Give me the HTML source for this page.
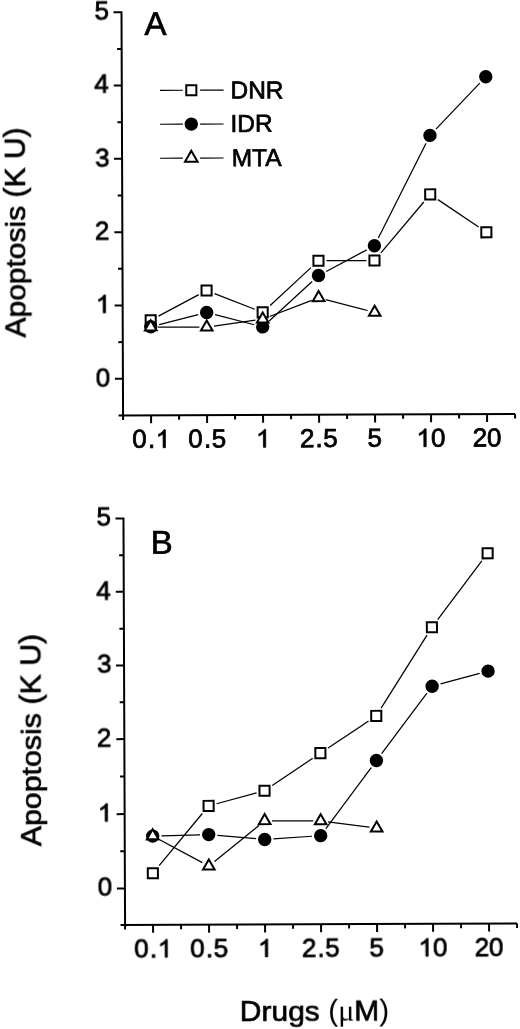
<!DOCTYPE html>
<html><head><meta charset="utf-8"><style>
html,body{margin:0;padding:0;background:#fff;width:520px;height:1029px;overflow:hidden}
svg{display:block;filter:grayscale(1)}
text{font-family:"Liberation Sans", sans-serif}
</style></head><body>
<svg width="520" height="1029" viewBox="0 0 520 1029">
<defs><filter id="soft" x="-2%" y="-2%" width="104%" height="104%"><feGaussianBlur stdDeviation="0.3"/></filter></defs>
<rect width="520" height="1029" fill="#fff"/>
<g filter="url(#soft)"><g transform="rotate(-0.2235)" font-family="Liberation Sans, sans-serif" fill="#000">
<path d="M116.95,415.89 H513.45 M121.45,415.89 V12.69 H113.45" fill="none" stroke="#000" stroke-width="2.0" stroke-linecap="butt" stroke-linejoin="miter"/>
<path d="M121.45,379.24 H113.45 M121.45,342.59 H116.95 M121.45,305.93 H113.45 M121.45,269.27 H116.95 M121.45,232.62 H113.45 M121.45,195.97 H116.95 M121.45,159.31 H113.45 M121.45,122.65 H116.95 M121.45,86.00 H113.45 M121.45,49.35 H116.95 M121.45,415.89 V420.39 M149.45,415.89 V423.89 M177.45,415.89 V420.39 M205.45,415.89 V423.89 M233.45,415.89 V420.39 M261.45,415.89 V423.89 M289.45,415.89 V420.39 M317.45,415.89 V423.89 M345.45,415.89 V420.39 M373.45,415.89 V423.89 M401.45,415.89 V420.39 M429.45,415.89 V423.89 M457.45,415.89 V420.39 M485.45,415.89 V423.89 M513.45,415.89 V420.39 " fill="none" stroke="#000" stroke-width="2.0"/>
<line x1="157.27" y1="316.75" x2="197.63" y2="295.39" stroke="#000" stroke-width="1.25"/>
<line x1="213.36" y1="294.38" x2="253.54" y2="310.25" stroke="#000" stroke-width="1.25"/>
<line x1="268.97" y1="306.47" x2="309.93" y2="268.85" stroke="#000" stroke-width="1.25"/>
<line x1="325.50" y1="261.94" x2="365.40" y2="261.96" stroke="#000" stroke-width="1.25"/>
<line x1="379.89" y1="254.39" x2="423.01" y2="203.65" stroke="#000" stroke-width="1.25"/>
<line x1="437.15" y1="201.32" x2="477.75" y2="228.95" stroke="#000" stroke-width="1.25"/>
<line x1="157.89" y1="325.27" x2="197.01" y2="315.47" stroke="#000" stroke-width="1.25"/>
<line x1="213.87" y1="315.55" x2="253.03" y2="325.73" stroke="#000" stroke-width="1.25"/>
<line x1="267.87" y1="322.06" x2="311.03" y2="282.66" stroke="#000" stroke-width="1.25"/>
<line x1="325.15" y1="272.73" x2="365.75" y2="251.32" stroke="#000" stroke-width="1.25"/>
<line x1="377.39" y1="239.50" x2="425.51" y2="144.83" stroke="#000" stroke-width="1.25"/>
<line x1="435.47" y1="130.80" x2="479.43" y2="84.93" stroke="#000" stroke-width="1.25"/>
<line x1="156.80" y1="327.64" x2="198.10" y2="327.95" stroke="#000" stroke-width="1.25"/>
<line x1="212.73" y1="326.99" x2="254.17" y2="321.21" stroke="#000" stroke-width="1.25"/>
<line x1="268.32" y1="317.59" x2="310.58" y2="301.61" stroke="#000" stroke-width="1.25"/>
<line x1="324.55" y1="300.89" x2="366.35" y2="311.95" stroke="#000" stroke-width="1.25"/>
<rect x="144.40" y="315.84" width="10.10" height="10.10" fill="#fff" stroke="#000" stroke-width="2.0"/>
<rect x="200.40" y="286.21" width="10.10" height="10.10" fill="#fff" stroke="#000" stroke-width="2.0"/>
<rect x="256.40" y="308.32" width="10.10" height="10.10" fill="#fff" stroke="#000" stroke-width="2.0"/>
<rect x="312.40" y="256.89" width="10.10" height="10.10" fill="#fff" stroke="#000" stroke-width="2.0"/>
<rect x="368.40" y="256.91" width="10.10" height="10.10" fill="#fff" stroke="#000" stroke-width="2.0"/>
<rect x="424.40" y="191.03" width="10.10" height="10.10" fill="#fff" stroke="#000" stroke-width="2.0"/>
<rect x="480.40" y="229.15" width="10.10" height="10.10" fill="#fff" stroke="#000" stroke-width="2.0"/>
<circle cx="149.45" cy="327.39" r="6.7" fill="#000"/>
<circle cx="205.45" cy="313.36" r="6.7" fill="#000"/>
<circle cx="261.45" cy="327.92" r="6.7" fill="#000"/>
<circle cx="317.45" cy="276.79" r="6.7" fill="#000"/>
<circle cx="373.45" cy="247.26" r="6.7" fill="#000"/>
<circle cx="429.45" cy="137.08" r="6.7" fill="#000"/>
<circle cx="485.45" cy="78.64" r="6.7" fill="#000"/>
<polygon points="149.45,320.89 143.65,330.94 155.25,330.94" fill="#fff" stroke="#000" stroke-width="2.0" stroke-linejoin="miter"/>
<polygon points="205.45,321.31 199.65,331.35 211.25,331.35" fill="#fff" stroke="#000" stroke-width="2.0" stroke-linejoin="miter"/>
<polygon points="261.45,313.50 255.65,323.54 267.25,323.54" fill="#fff" stroke="#000" stroke-width="2.0" stroke-linejoin="miter"/>
<polygon points="317.45,292.32 311.65,302.36 323.25,302.36" fill="#fff" stroke="#000" stroke-width="2.0" stroke-linejoin="miter"/>
<polygon points="373.45,307.13 367.65,317.18 379.25,317.18" fill="#fff" stroke="#000" stroke-width="2.0" stroke-linejoin="miter"/>
<path d="M116.95,925.45 H513.45 M121.45,925.45 V518.98 H113.45" fill="none" stroke="#000" stroke-width="2.0" stroke-linecap="butt" stroke-linejoin="miter"/>
<path d="M121.45,888.88 H113.45 M121.45,851.73 H116.95 M121.45,814.58 H113.45 M121.45,777.08 H116.95 M121.45,739.58 H113.45 M121.45,702.78 H116.95 M121.45,665.98 H113.45 M121.45,629.11 H116.95 M121.45,592.23 H113.45 M121.45,555.61 H116.95 M121.45,925.45 V929.95 M149.45,925.45 V933.45 M177.45,925.45 V929.95 M205.45,925.45 V933.45 M233.45,925.45 V929.95 M261.45,925.45 V933.45 M289.45,925.45 V929.95 M317.45,925.45 V933.45 M345.45,925.45 V929.95 M373.45,925.45 V933.45 M401.45,925.45 V929.95 M429.45,925.45 V933.45 M457.45,925.45 V929.95 M485.45,925.45 V933.45 M513.45,925.45 V929.95 " fill="none" stroke="#000" stroke-width="2.0"/>
<line x1="155.78" y1="866.26" x2="199.12" y2="814.30" stroke="#000" stroke-width="1.25"/>
<line x1="213.43" y1="804.59" x2="253.47" y2="793.91" stroke="#000" stroke-width="1.25"/>
<line x1="269.16" y1="786.63" x2="309.74" y2="759.50" stroke="#000" stroke-width="1.25"/>
<line x1="325.17" y1="749.25" x2="365.73" y2="722.46" stroke="#000" stroke-width="1.25"/>
<line x1="378.35" y1="709.63" x2="424.55" y2="636.72" stroke="#000" stroke-width="1.25"/>
<line x1="435.25" y1="621.34" x2="479.65" y2="562.84" stroke="#000" stroke-width="1.25"/>
<line x1="158.15" y1="836.50" x2="196.75" y2="835.61" stroke="#000" stroke-width="1.25"/>
<line x1="214.11" y1="836.21" x2="252.79" y2="839.74" stroke="#000" stroke-width="1.25"/>
<line x1="270.13" y1="839.97" x2="308.77" y2="837.46" stroke="#000" stroke-width="1.25"/>
<line x1="322.66" y1="829.93" x2="368.24" y2="768.99" stroke="#000" stroke-width="1.25"/>
<line x1="378.69" y1="755.08" x2="424.21" y2="694.83" stroke="#000" stroke-width="1.25"/>
<line x1="437.86" y1="685.65" x2="477.04" y2="675.24" stroke="#000" stroke-width="1.25"/>
<line x1="155.91" y1="840.09" x2="198.99" y2="863.42" stroke="#000" stroke-width="1.25"/>
<line x1="211.17" y1="862.31" x2="255.73" y2="826.44" stroke="#000" stroke-width="1.25"/>
<line x1="268.80" y1="821.87" x2="310.10" y2="822.11" stroke="#000" stroke-width="1.25"/>
<line x1="324.73" y1="823.12" x2="366.17" y2="828.60" stroke="#000" stroke-width="1.25"/>
<rect x="144.40" y="868.80" width="10.10" height="10.10" fill="#fff" stroke="#000" stroke-width="2.0"/>
<rect x="200.40" y="801.66" width="10.10" height="10.10" fill="#fff" stroke="#000" stroke-width="2.0"/>
<rect x="256.40" y="786.73" width="10.10" height="10.10" fill="#fff" stroke="#000" stroke-width="2.0"/>
<rect x="312.40" y="749.30" width="10.10" height="10.10" fill="#fff" stroke="#000" stroke-width="2.0"/>
<rect x="368.40" y="712.32" width="10.10" height="10.10" fill="#fff" stroke="#000" stroke-width="2.0"/>
<rect x="424.40" y="623.93" width="10.10" height="10.10" fill="#fff" stroke="#000" stroke-width="2.0"/>
<rect x="480.40" y="550.15" width="10.10" height="10.10" fill="#fff" stroke="#000" stroke-width="2.0"/>
<circle cx="149.45" cy="836.70" r="6.7" fill="#000"/>
<circle cx="205.45" cy="835.41" r="6.7" fill="#000"/>
<circle cx="261.45" cy="840.53" r="6.7" fill="#000"/>
<circle cx="317.45" cy="836.90" r="6.7" fill="#000"/>
<circle cx="373.45" cy="762.02" r="6.7" fill="#000"/>
<circle cx="429.45" cy="687.89" r="6.7" fill="#000"/>
<circle cx="485.45" cy="673.00" r="6.7" fill="#000"/>
<polygon points="149.45,829.90 143.65,839.94 155.25,839.94" fill="#fff" stroke="#000" stroke-width="2.0" stroke-linejoin="miter"/>
<polygon points="205.45,860.22 199.65,870.26 211.25,870.26" fill="#fff" stroke="#000" stroke-width="2.0" stroke-linejoin="miter"/>
<polygon points="261.45,815.13 255.65,825.18 267.25,825.18" fill="#fff" stroke="#000" stroke-width="2.0" stroke-linejoin="miter"/>
<polygon points="317.45,815.45 311.65,825.50 323.25,825.50" fill="#fff" stroke="#000" stroke-width="2.0" stroke-linejoin="miter"/>
<polygon points="373.45,822.87 367.65,832.92 379.25,832.92" fill="#fff" stroke="#000" stroke-width="2.0" stroke-linejoin="miter"/>
<g transform="translate(94.13,386.54)" stroke="#000" stroke-width="0.8"><text x="0.000" y="0" font-size="26">0</text></g>
<g transform="translate(94.13,896.18)" stroke="#000" stroke-width="0.8"><text x="0.000" y="0" font-size="26">0</text></g>
<g transform="translate(94.61,313.22)" stroke="#000" stroke-width="0.8"><path transform="translate(0.000,0) scale(0.01270,-0.01270)" d="M763 0H583V1100Q518 1040 412 981Q307 922 223 892V1059Q374 1127 487 1224Q600 1320 647 1409H763Z" stroke-width="63.02"/></g>
<g transform="translate(94.61,821.87)" stroke="#000" stroke-width="0.8"><path transform="translate(0.000,0) scale(0.01270,-0.01270)" d="M763 0H583V1100Q518 1040 412 981Q307 922 223 892V1059Q374 1127 487 1224Q600 1320 647 1409H763Z" stroke-width="63.02"/></g>
<g transform="translate(93.97,240.05)" stroke="#000" stroke-width="0.8"><text x="0.000" y="0" font-size="26">2</text></g>
<g transform="translate(93.97,747.01)" stroke="#000" stroke-width="0.8"><text x="0.000" y="0" font-size="26">2</text></g>
<g transform="translate(94.52,166.61)" stroke="#000" stroke-width="0.8"><text x="0.000" y="0" font-size="26">3</text></g>
<g transform="translate(94.52,673.28)" stroke="#000" stroke-width="0.8"><text x="0.000" y="0" font-size="26">3</text></g>
<g transform="translate(93.91,93.29)" stroke="#000" stroke-width="0.8"><text x="0.000" y="0" font-size="26">4</text></g>
<g transform="translate(93.91,599.52)" stroke="#000" stroke-width="0.8"><text x="0.000" y="0" font-size="26">4</text></g>
<g transform="translate(94.45,19.86)" stroke="#000" stroke-width="0.8"><text x="0.000" y="0" font-size="26">5</text></g>
<g transform="translate(94.45,526.15)" stroke="#000" stroke-width="0.8"><text x="0.000" y="0" font-size="26">5</text></g>
<g transform="translate(130.61,448.35)" stroke="#000" stroke-width="0.8"><text x="0.000" y="0" font-size="26">0</text><text x="15.564" y="0" font-size="26">.</text><path transform="translate(23.385,0) scale(0.01270,-0.01270)" d="M763 0H583V1100Q518 1040 412 981Q307 922 223 892V1059Q374 1127 487 1224Q600 1320 647 1409H763Z" stroke-width="63.02"/></g>
<g transform="translate(130.61,957.90)" stroke="#000" stroke-width="0.8"><text x="0.000" y="0" font-size="26">0</text><text x="15.564" y="0" font-size="26">.</text><path transform="translate(23.385,0) scale(0.01270,-0.01270)" d="M763 0H583V1100Q518 1040 412 981Q307 922 223 892V1059Q374 1127 487 1224Q600 1320 647 1409H763Z" stroke-width="63.02"/></g>
<g transform="translate(186.57,448.35)" stroke="#000" stroke-width="0.8"><text x="0.000" y="0" font-size="26">0</text><text x="15.564" y="0" font-size="26">.</text><text x="23.385" y="0" font-size="26">5</text></g>
<g transform="translate(186.57,957.90)" stroke="#000" stroke-width="0.8"><text x="0.000" y="0" font-size="26">0</text><text x="15.564" y="0" font-size="26">.</text><text x="23.385" y="0" font-size="26">5</text></g>
<g transform="translate(254.29,448.34)" stroke="#000" stroke-width="0.8"><path transform="translate(0.000,0) scale(0.01270,-0.01270)" d="M763 0H583V1100Q518 1040 412 981Q307 922 223 892V1059Q374 1127 487 1224Q600 1320 647 1409H763Z" stroke-width="63.02"/></g>
<g transform="translate(254.29,957.89)" stroke="#000" stroke-width="0.8"><path transform="translate(0.000,0) scale(0.01270,-0.01270)" d="M763 0H583V1100Q518 1040 412 981Q307 922 223 892V1059Q374 1127 487 1224Q600 1320 647 1409H763Z" stroke-width="63.02"/></g>
<g transform="translate(298.22,448.35)" stroke="#000" stroke-width="0.8"><text x="0.000" y="0" font-size="26">2</text><text x="15.564" y="0" font-size="26">.</text><text x="23.385" y="0" font-size="26">5</text></g>
<g transform="translate(298.22,957.90)" stroke="#000" stroke-width="0.8"><text x="0.000" y="0" font-size="26">2</text><text x="15.564" y="0" font-size="26">.</text><text x="23.385" y="0" font-size="26">5</text></g>
<g transform="translate(365.85,448.21)" stroke="#000" stroke-width="0.8"><text x="0.000" y="0" font-size="26">5</text></g>
<g transform="translate(365.85,957.77)" stroke="#000" stroke-width="0.8"><text x="0.000" y="0" font-size="26">5</text></g>
<g transform="translate(414.75,448.35)" stroke="#000" stroke-width="0.8"><path transform="translate(0.000,0) scale(0.01270,-0.01270)" d="M763 0H583V1100Q518 1040 412 981Q307 922 223 892V1059Q374 1127 487 1224Q600 1320 647 1409H763Z" stroke-width="63.02"/><text x="14.460" y="0" font-size="26">0</text></g>
<g transform="translate(414.75,957.90)" stroke="#000" stroke-width="0.8"><path transform="translate(0.000,0) scale(0.01270,-0.01270)" d="M763 0H583V1100Q518 1040 412 981Q307 922 223 892V1059Q374 1127 487 1224Q600 1320 647 1409H763Z" stroke-width="63.02"/><text x="14.460" y="0" font-size="26">0</text></g>
<g transform="translate(470.91,448.35)" stroke="#000" stroke-width="0.8"><text x="0.000" y="0" font-size="26">2</text><text x="14.460" y="0" font-size="26">0</text></g>
<g transform="translate(470.91,957.90)" stroke="#000" stroke-width="0.8"><text x="0.000" y="0" font-size="26">2</text><text x="14.460" y="0" font-size="26">0</text></g>
<g transform="translate(144.41,35.59)"><text font-size="33" stroke="#000" stroke-width="0.7">A</text></g>
<g transform="translate(148.57,554.36)"><text font-size="33" stroke="#000" stroke-width="0.7">B</text></g>
<g transform="translate(230.09,99.45)"><text font-size="24.5" stroke="#000" stroke-width="0.7">DNR</text></g>
<g transform="translate(229.99,132.85)"><text font-size="24.5" stroke="#000" stroke-width="0.7">IDR</text></g>
<g transform="translate(231.00,167.15)"><text font-size="24.5" stroke="#000" stroke-width="0.7">MTA</text></g>
<g transform="translate(24.23,337.57)"><g transform="rotate(-90)"><text x="0.000" y="0" font-size="30" stroke="#000" stroke-width="0.7">A</text><g transform="translate(20.010,0) scale(1,0.93)"><text x="0" y="0" font-size="30" stroke="#000" stroke-width="0.7">poptosis</text></g><text x="131.748" y="0" font-size="30" stroke="#000" stroke-width="0.7">&#160;(K&#160;U)</text></g></g>
<g transform="translate(37.90,846.36)"><g transform="scale(1,1.0113) rotate(-90)"><text x="0.000" y="0" font-size="30" stroke="#000" stroke-width="0.7">A</text><g transform="translate(20.010,0) scale(1,0.93)"><text x="0" y="0" font-size="30" stroke="#000" stroke-width="0.7">poptosis</text></g><text x="131.748" y="0" font-size="30" stroke="#000" stroke-width="0.7">&#160;(K&#160;U)</text></g></g>
<g transform="translate(235.87,1022.41)"><text x="0.000" y="0" font-size="30" stroke="#000" stroke-width="0.7">D</text><g transform="translate(21.665,0) scale(1,0.93)"><text x="0" y="0" font-size="30" stroke="#000" stroke-width="0.7">rugs</text></g><text x="80.024" y="0" font-size="30" stroke="#000" stroke-width="0.7">&#160;</text><text x="88.359" y="0" font-size="30" stroke="none">(</text><text x="98.350" y="0" font-size="30" style="font-family:Liberation Serif" stroke="none">&#956;</text><text x="114.434" y="0" font-size="30" stroke="#000" stroke-width="0.7">M</text><text x="139.424" y="0" font-size="30" stroke="none">)</text></g>
<line x1="159.65" y1="90.95" x2="182.45" y2="90.95" stroke="#000" stroke-width="1.15"/>
<line x1="199.75" y1="90.95" x2="223.25" y2="90.95" stroke="#000" stroke-width="1.15"/>
<rect x="185.90" y="85.90" width="10.10" height="10.10" fill="#fff" stroke="#000" stroke-width="2.0"/>
<line x1="159.52" y1="124.85" x2="182.32" y2="124.85" stroke="#000" stroke-width="1.15"/>
<line x1="199.62" y1="124.85" x2="223.12" y2="124.85" stroke="#000" stroke-width="1.15"/>
<circle cx="190.82" cy="124.85" r="6.7" fill="#000"/>
<line x1="159.38" y1="158.85" x2="182.18" y2="158.85" stroke="#000" stroke-width="1.15"/>
<line x1="199.48" y1="158.85" x2="222.98" y2="158.85" stroke="#000" stroke-width="1.15"/>
<polygon points="190.68,151.57 184.38,162.48 196.98,162.48" fill="#fff" stroke="#000" stroke-width="2.0" stroke-linejoin="miter"/>
</g></g>
</svg>
</body></html>
